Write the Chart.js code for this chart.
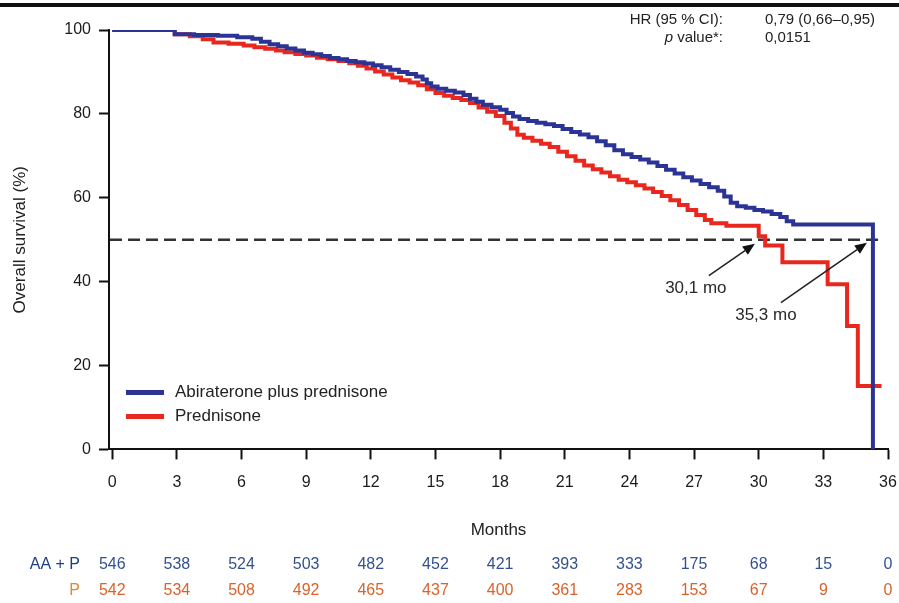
<!DOCTYPE html>
<html>
<head>
<meta charset="utf-8">
<script src="https://cdn.jsdelivr.net/npm/chart.js@4.4.1/dist/chart.umd.min.js"></script>
<style>
  html, body { margin: 0; padding: 0; background: #fff; }
  #wrap { width: 899px; height: 603px; }
</style>
</head>
<body>
<div id="wrap"><canvas id="kmChart" width="899" height="603"></canvas></div>
<script>
// Kaplan-Meier steps: month of the step, survival (%) from that month on
const abiMonths = [0, 2.9, 3.8, 4.9, 5.8, 6.5, 6.9, 7.3, 7.7, 8.1, 8.5, 8.9, 9.3, 9.7, 10.1, 10.5, 10.9, 11.3,
  11.7, 12.1, 12.5, 12.9, 13.3, 13.7, 14.1, 14.4, 14.6, 14.8, 15.1, 15.5, 15.9, 16.3, 16.6, 16.9, 17.2, 17.6,
  18.0, 18.3, 18.6, 18.9, 19.3, 19.7, 20.1, 20.5, 20.9, 21.3, 21.7, 22.1, 22.5, 22.9, 23.3, 23.7, 24.1, 24.5,
  24.9, 25.3, 25.7, 26.1, 26.5, 26.9, 27.3, 27.7, 28.1, 28.4, 28.7, 29.0, 29.4, 29.8, 30.2, 30.6, 31.0, 31.3,
  31.6, 35.3];
const abiSurvival = [100, 99.0, 98.8, 98.6, 98.3, 97.9, 97.2, 96.6, 96.1, 95.6, 95.1, 94.6, 94.2, 93.8, 93.3, 93.0, 92.6, 92.3,
  92.0, 91.6, 91.1, 90.5, 90.0, 89.5, 88.9, 88.2, 87.3, 86.5, 86.0, 85.5, 85.1, 84.5, 83.6, 82.9, 82.2, 81.6,
  81.0, 80.2, 79.4, 78.8, 78.3, 77.9, 77.5, 77.1, 76.4, 75.7, 75.1, 74.4, 73.5, 72.5, 71.3, 70.4, 69.7, 69.1,
  68.4, 67.6, 66.7, 65.8, 64.9, 64.1, 63.3, 62.5, 61.7, 60.3, 58.8, 58.0, 57.6, 57.1, 56.7, 56.1, 55.4, 54.4,
  53.6, 0];

const predMonths = [0, 2.9, 3.6, 4.2, 4.7, 5.4, 6.1, 6.6, 7.1, 7.6, 8.0, 8.5, 9.0, 9.5, 10.0, 10.5, 11.0, 11.4,
  11.8, 12.2, 12.6, 13.0, 13.4, 13.8, 14.2, 14.6, 15.0, 15.4, 15.8, 16.2, 16.6, 17.0, 17.4, 17.8, 18.2, 18.5,
  18.8, 19.1, 19.5, 19.9, 20.3, 20.7, 21.1, 21.5, 21.9, 22.3, 22.7, 23.1, 23.5, 23.9, 24.3, 24.7, 25.1, 25.5,
  25.9, 26.3, 26.7, 27.1, 27.5, 27.8, 28.5, 30.0, 30.3, 31.1, 33.2, 34.1, 34.6, 35.7];
const predSurvival = [100, 99.0, 98.5, 97.8, 97.0, 96.7, 96.3, 95.9, 95.5, 95.1, 94.7, 94.3, 93.9, 93.4, 93.0, 92.6, 92.1, 91.5,
  90.8, 90.1, 89.4, 88.7, 88.0, 87.5, 86.8, 85.9, 85.0, 84.3, 83.8, 83.3, 82.6, 81.5, 80.5, 79.5, 77.9, 76.5,
  75.0, 74.3, 73.6, 72.9, 72.1, 71.0, 69.9, 68.8, 67.7, 66.8, 66.0, 65.1, 64.3, 63.7, 63.0, 62.2, 61.4, 60.4,
  59.4, 58.3, 57.1, 55.9, 54.7, 53.9, 53.3, 50.8, 48.6, 44.6, 39.4, 29.4, 15.1, 15.1];

const monthTicks = [0, 3, 6, 9, 12, 15, 18, 21, 24, 27, 30, 33, 36];
const riskAbi = [546, 538, 524, 503, 482, 452, 421, 393, 333, 175, 68, 15, 0];
const riskPred = [542, 534, 508, 492, 465, 437, 400, 361, 283, 153, 67, 9, 0];

const medianLevel = 50;
const medianMonths = [30.1, 35.3];
const medianLabels = ['30,1 mo', '35,3 mo'];

const FONT = '"Liberation Sans", Arial, Helvetica, sans-serif';
const BLUE = '#2b3494';
const RED = '#e8281e';
const INK = '#1b1b1b';

Chart.defaults.font.family = FONT;
Chart.defaults.color = INK;

// pixel offsets of the arrow tip, arrow tail and label from each median point
const arrowLayout = [
  { tip: [-6, 4], tail: [-52, 36], text: [-65, 49] },
  { tip: [-6, 3], tail: [-92, 63], text: [-107, 76] }
];

const topRule = {
  id: 'topRule',
  beforeDraw(chart) {
    const c = chart.ctx;
    c.save();
    c.fillStyle = '#111';
    c.fillRect(0, 3, chart.width, 4);
    c.restore();
  }
};

const medianMarks = {
  id: 'medianMarks',
  beforeDatasetsDraw(chart) {
    const c = chart.ctx, x = chart.scales.x, y = chart.scales.y;
    const yy = y.getPixelForValue(medianLevel);
    c.save();
    c.strokeStyle = '#333';
    c.lineWidth = 2.5;
    c.setLineDash([12, 6]);
    c.beginPath();
    c.moveTo(chart.chartArea.left + 1, yy);
    c.lineTo(x.getPixelForValue(predMonths[predMonths.length - 1]), yy);
    c.stroke();
    c.restore();
  },
  afterDatasetsDraw(chart) {
    const c = chart.ctx, x = chart.scales.x, y = chart.scales.y;
    c.save();
    medianMonths.forEach((m, i) => {
      const px = x.getPixelForValue(m), py = y.getPixelForValue(medianLevel);
      const L = arrowLayout[i];
      const tx = px + L.tip[0], ty = py + L.tip[1];
      const sx = px + L.tail[0], sy = py + L.tail[1];
      const ang = Math.atan2(ty - sy, tx - sx);
      const hl = 12, hw = 5;
      const bx = tx - hl * Math.cos(ang), by = ty - hl * Math.sin(ang);
      c.strokeStyle = '#222';
      c.fillStyle = '#111';
      c.lineWidth = 1.5;
      c.beginPath();
      c.moveTo(sx, sy);
      c.lineTo(bx, by);
      c.stroke();
      c.beginPath();
      c.moveTo(tx, ty);
      c.lineTo(bx + hw * Math.sin(ang), by - hw * Math.cos(ang));
      c.lineTo(bx - hw * Math.sin(ang), by + hw * Math.cos(ang));
      c.closePath();
      c.fill();
      c.font = '17px ' + FONT;
      c.fillStyle = '#2a2a2a';
      c.textAlign = 'center';
      c.textBaseline = 'middle';
      c.fillText(medianLabels[i], px + L.text[0], py + L.text[1]);
    });
    c.restore();
  }
};

const insideLegend = {
  id: 'insideLegend',
  afterDraw(chart) {
    const c = chart.ctx, a = chart.chartArea;
    c.save();
    c.font = '17px ' + FONT;
    c.textBaseline = 'middle';
    c.textAlign = 'left';
    chart.data.datasets.forEach((ds, i) => {
      const yy = a.bottom - 57 + i * 24;
      c.strokeStyle = ds.borderColor;
      c.lineWidth = 5;
      c.beginPath();
      c.moveTo(a.left + 17, yy);
      c.lineTo(a.left + 55, yy);
      c.stroke();
      c.fillStyle = '#222';
      c.fillText(ds.label, a.left + 66, yy);
    });
    c.restore();
  }
};

const statsBox = {
  id: 'statsBox',
  afterDraw(chart) {
    const c = chart.ctx;
    const rx = 723, vx = 765;
    c.save();
    c.fillStyle = '#222';
    c.textBaseline = 'middle';
    c.font = '15px ' + FONT;
    c.textAlign = 'right';
    c.fillText('HR (95 % CI):', rx, 20);
    c.fillText(' value*:', rx, 38);
    const w = c.measureText(' value*:').width;
    c.font = 'italic 15px ' + FONT;
    c.fillText('p', rx - w, 38);
    c.font = '15px ' + FONT;
    c.textAlign = 'left';
    c.fillText('0,79 (0,66\u20130,95)', vx, 20);
    c.fillText('0,0151', vx, 38);
    c.restore();
  }
};

const riskTable = {
  id: 'riskTable',
  afterDraw(chart) {
    const c = chart.ctx, x = chart.scales.x;
    const rows = [
      { label: 'AA + P', labelColor: '#1f3f80', color: '#34528f', values: riskAbi, y: 565 },
      { label: 'P', labelColor: '#e08a2a', color: '#d8632b', values: riskPred, y: 591 }
    ];
    c.save();
    c.font = '16px ' + FONT;
    c.textBaseline = 'middle';
    rows.forEach(r => {
      c.textAlign = 'right';
      c.fillStyle = r.labelColor;
      c.fillText(r.label, 80, r.y);
      c.textAlign = 'center';
      c.fillStyle = r.color;
      r.values.forEach((v, i) => c.fillText(String(v), x.getPixelForValue(monthTicks[i]), r.y));
    });
    c.restore();
  }
};

const ctx = document.getElementById('kmChart').getContext('2d');

const kmChart = new Chart(ctx, {
  type: 'line',
  data: {
    datasets: [
      {
        label: 'Abiraterone plus prednisone',
        data: abiMonths.map((m, i) => ({ x: m, y: abiSurvival[i] })),
        borderColor: BLUE,
        borderWidth: 4,
        stepped: 'before',
        pointRadius: 0,
        fill: false
      },
      {
        label: 'Prednisone',
        data: predMonths.map((m, i) => ({ x: m, y: predSurvival[i] })),
        borderColor: RED,
        borderWidth: 4,
        stepped: 'before',
        pointRadius: 0,
        fill: false
      }
    ]
  },
  options: {
    responsive: false,
    animation: false,
    layout: { padding: { top: 30, right: 0, bottom: 62, left: 0 } },
    scales: {
      x: {
        type: 'linear',
        min: -0.15,
        max: 36,
        afterBuildTicks: s => { s.ticks = monthTicks.map(v => ({ value: v })); },
        afterFit: s => { s.paddingLeft = 0; s.paddingRight = 11; },
        grid: { drawOnChartArea: false, tickLength: 10, tickWidth: 2, tickColor: '#111' },
        border: { color: '#111', width: 2 },
        ticks: { font: { size: 16 }, padding: 14, color: INK, maxRotation: 0 },
        title: { display: true, text: 'Months', font: { size: 17 }, color: '#222', padding: { top: 14, bottom: 0 } }
      },
      y: {
        min: 0,
        max: 100,
        afterFit: s => { s.width = 109; },
        ticks: { stepSize: 20, font: { size: 16 }, padding: 8, color: INK },
        grid: { drawOnChartArea: false, tickLength: 10, tickWidth: 2, tickColor: '#111' },
        border: { color: '#111', width: 2 },
        title: { display: true, text: 'Overall survival (%)', font: { size: 17 }, color: '#222', padding: { top: 10, bottom: 0 } }
      }
    },
    plugins: {
      legend: { display: false },
      tooltip: { enabled: false }
    }
  },
  plugins: [topRule, medianMarks, insideLegend, statsBox, riskTable]
});
</script>
</body>
</html>
